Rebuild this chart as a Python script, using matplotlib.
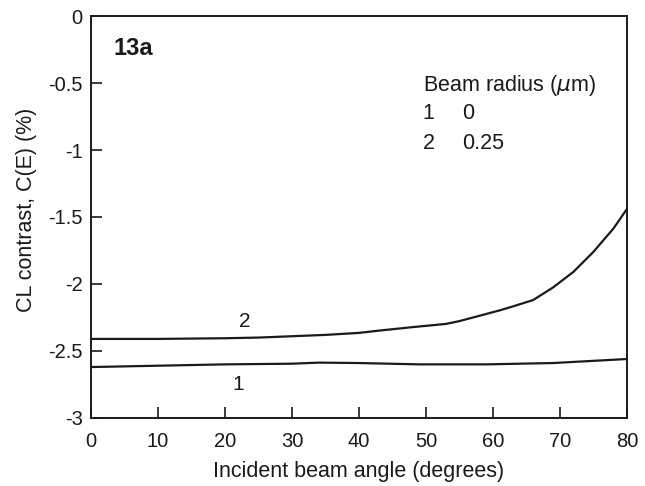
import matplotlib.pyplot as plt

# data
angle = [0, 10, 20, 25, 30, 35, 40, 43, 48, 53, 55, 58, 61, 63, 66, 69, 72, 75, 78, 80]
radius_025 = [-2.41, -2.41, -2.405, -2.40, -2.39, -2.38, -2.365, -2.348, -2.322, -2.298,
              -2.277, -2.237, -2.197, -2.167, -2.12, -2.025, -1.91, -1.76, -1.585, -1.44]
angle1 = [0, 10, 20, 30, 34, 40, 49, 59, 69, 80]
radius_0 = [-2.62, -2.61, -2.60, -2.595, -2.587, -2.59, -2.60, -2.60, -2.59, -2.56]

xticks = [0, 10, 20, 30, 40, 50, 60, 70, 80]
yticks = [0, -0.5, -1, -1.5, -2, -2.5, -3]
ytick_labels = ["0", "-0.5", "-1", "-1.5", "-2", "-2.5", "-3"]

plt.rcParams['font.family'] = ['Liberation Sans', 'DejaVu Sans']
ink = '#1a1a1a'

fig = plt.figure(figsize=(6.45, 4.86), dpi=100)
ax = fig.add_axes([0.141, 0.140, 0.831, 0.827])

ax.plot(angle, radius_025, color=ink, lw=1.6)
ax.plot(angle1, radius_0, color=ink, lw=1.6)

ax.set_xlim(0, 80)
ax.set_ylim(-3, 0)
ax.set_xticks(xticks)
ax.set_yticks(yticks)
ax.set_yticklabels(ytick_labels)
ax.tick_params(direction='in', length=8, width=1.2, labelsize=14.5, colors=ink)
ax.tick_params(axis='x', pad=10)
ax.tick_params(axis='y', pad=6)
for s in ax.spines.values():
    s.set_linewidth(1.4)
    s.set_color(ink)

ax.set_xlabel("Incident beam angle (degrees)", fontsize=15.5, color=ink, labelpad=7)
ax.set_ylabel("CL contrast, C(E) (%)", fontsize=15.5, color=ink)
ax.yaxis.set_label_coords(-0.10, 0.517)

# curve labels
ax.text(23, -2.28, "2", fontsize=15, ha='center', va='center', color=ink)
ax.text(22, -2.75, "1", fontsize=15, ha='center', va='center', color=ink)

# panel label
ax.text(3.3, -0.24, "13a", fontsize=17, fontweight='bold', ha='left', va='center', color=ink)

# key
fs = 15.5
ax.text(49.5, -0.515, "Beam radius ($\\mu$m)", fontsize=fs, ha='left', va='center', color=ink)
ax.text(49.5, -0.724, "1", fontsize=fs, ha='left', va='center', color=ink)
ax.text(55.4, -0.724, "0", fontsize=fs, ha='left', va='center', color=ink)
ax.text(49.5, -0.948, "2", fontsize=fs, ha='left', va='center', color=ink)
ax.text(55.4, -0.948, "0.25", fontsize=fs, ha='left', va='center', color=ink)

plt.savefig("out.png", dpi=100)
